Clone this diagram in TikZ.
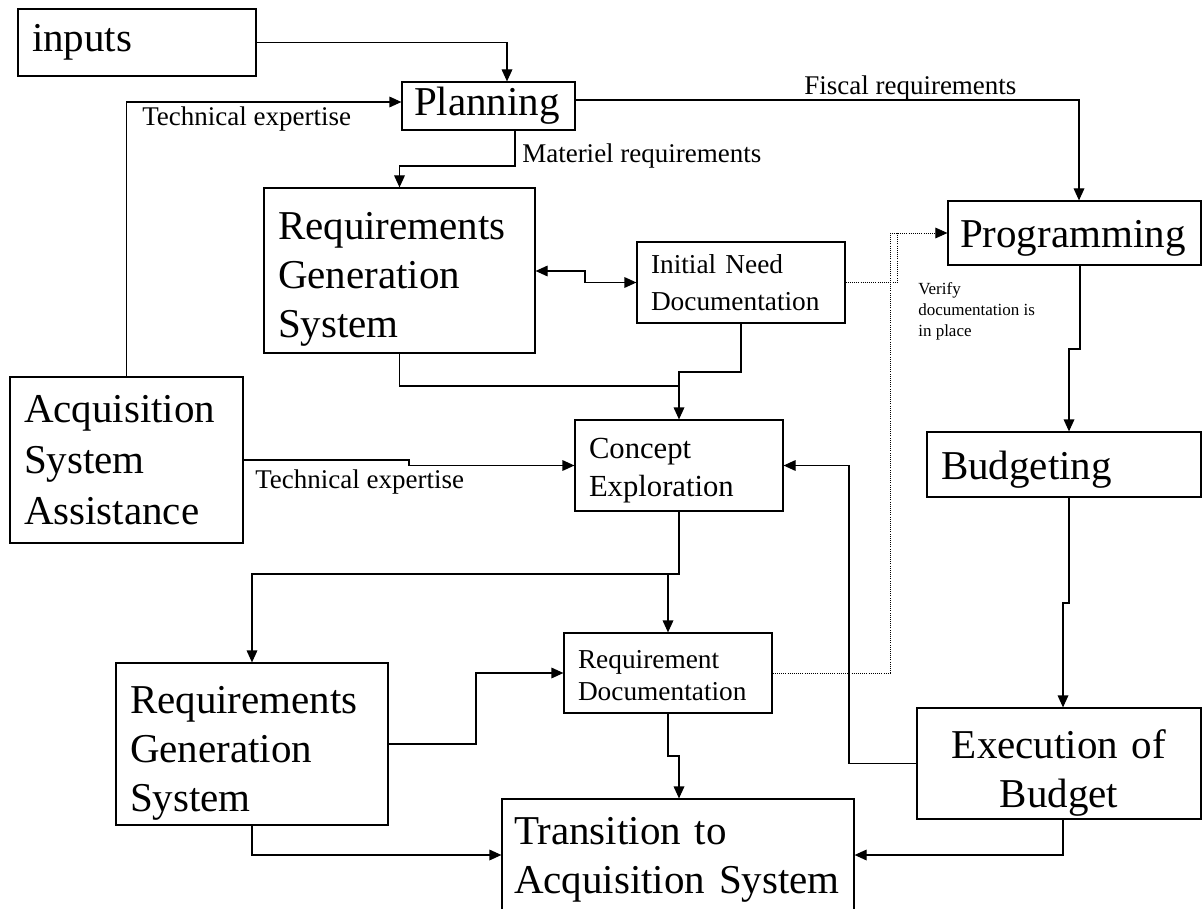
\documentclass[tikz,border=0pt]{standalone}
\usepackage{fontspec}
\setmainfont{Liberation Serif}
\usetikzlibrary{arrows.meta}

\newcommand\boxfont{\fontsize{30.75}{36.75}\selectfont}
\newcommand\concfont{\fontsize{23}{28.5}\selectfont}
\newcommand\docfont{\fontsize{20.5}{27.75}\selectfont}
\newcommand\lblfont{\fontsize{20.25}{24}\selectfont}
\newcommand\notefont{\fontsize{12.75}{15.75}\selectfont}

\begin{document}
\begin{tikzpicture}[x=0.75pt,y=0.75pt,yscale=-1,xscale=1,
  blk/.style={draw, line width=0.9pt, inner xsep=10.5pt, inner ysep=0pt, align=left},
  conn/.style={line width=0.9pt},
  arr/.style={conn, -{Triangle[length=9pt,width=8pt]}},
  arrboth/.style={conn, {Triangle[length=9pt,width=8pt]}-{Triangle[length=9pt,width=8pt]}},
  dots/.style={line width=0.6pt, densely dotted},
  lbl/.style={inner sep=0pt, anchor=west, font=\lblfont}]
\useasboundingbox (0,0) rectangle (1203,909);

%Boxes
\node[blk, font=\boxfont, text width=157.5pt, minimum height=50.25pt] (inp) at (137,42.5) {inputs};
\node[blk, font=\boxfont, inner xsep=9pt, text width=111.75pt, minimum height=36pt] (plan) at (488.5,106) {Planning};
\node[blk, font=\boxfont, text width=182.25pt, minimum height=123.75pt, text height=34pt] (rgs1) at (399.5,270.5) {Requirements\\Generation\\System};
\node[blk, font=\docfont, text width=135pt, minimum height=60.75pt] (ineed) at (741,282.5) {Initial Need\\Documentation};
\node[blk, font=\boxfont, inner xsep=9pt, text width=171.75pt, minimum height=48pt, text height=28.5pt] (prog) at (1074.5,233) {Programming};
\node[blk, font=\fontsize{30.75}{38.25}\selectfont, text width=153.75pt, minimum height=124.5pt] (acq) at (126.5,460) {Acquisition\\System\\Assistance};
\node[blk, font=\concfont, text width=135pt, minimum height=68.25pt, text height=23pt] (conc) at (679,465.5) {Concept\\Exploration};
\node[blk, font=\boxfont, text width=184.5pt, minimum height=48.75pt, text height=28.5pt] (budg) at (1064,464.5) {Budgeting};
\node[blk, font=\boxfont, text width=183pt, minimum height=121.5pt, text height=34pt] (rgs2) at (252,744) {Requirements\\Generation\\System};
\node[blk, font=\fontsize{20.5}{24}\selectfont, text width=135pt, minimum height=60pt, text height=17pt] (reqd) at (668,673) {Requirement\\Documentation};
\node[blk, font=\fontsize{30.75}{36.75}\selectfont, align=center, text width=192pt, minimum height=83.25pt, text height=36pt] (exec) at (1059,763.5) {Execution of\\Budget};
\node[blk, font=\boxfont, inner xsep=9pt, text width=246pt, minimum height=84pt, text height=27pt] (trans) at (678,855) {Transition to\\Acquisition System};

%Labels
\node[lbl] (techA) at (142,119) {Technical expertise};
\node[lbl] (matreq) at (522,156) {Materiel requirements};
\node[lbl] (fisreq) at (804,88) {Fiscal requirements};
\node[lbl] (techB) at (255,482) {Technical expertise};
\node[inner sep=0pt, anchor=north west, align=left, font=\notefont] (verify) at (918,282) {Verify\\documentation is\\in place};

%Connectors
\draw[arr] (inp.east) -| (plan.north -| 507,0);
\draw[arr] (acq.north) |- (plan.west |- 0,102);
\draw[arr] (plan.south -| 515,0) |- (rgs1.north |- 0,166) -- (rgs1.north);
\draw[arr] (plan.east |- 0,100) -| (prog.north -| 1079,0);
\draw[arrboth] (rgs1.east |- 0,271) -- (585,271) -- (585,282.5) -- (ineed.west);
\draw[conn] (rgs1.south) |- (679,386);
\draw[arr] (ineed.south) |- (679,372) -- (conc.north);
\draw[dots, -{Triangle[length=9pt,width=8pt]}] (reqd.east) -| (890,233) -- (prog.west);
\draw[dots] (ineed.east) -| (897,233);
\draw[arr] (prog.south -| 1080,0) -- (1080,349) -- (1069,349) -- (budg.north -| 1069,0);
\draw[arr] (acq.east) -- (409,460) -- (409,465.5) -- (conc.west);
\coordinate (csplit) at (668,574);
\draw[arr] (conc.south) |- (rgs2.north |- 0,574) -- (rgs2.north);
\draw[arr] (csplit) -- (reqd.north);
\draw[arr] (rgs2.east) -| (476,673) -- (reqd.west);
\draw[arr] (rgs2.south) |- (trans.west);
\draw[arr] (reqd.south) -- (668,756) -- (679,756) -- (trans.north -| 679,0);
\draw[arr] (budg.south -| 1069,0) -- (1069,603) -- (1063,603) -- (exec.north -| 1063,0);
\draw[arr] (exec.south -| 1063,0) |- (trans.east);
\draw[arr] (exec.west) -| (849,465.5) -- (conc.east);

\end{tikzpicture}
\end{document}
